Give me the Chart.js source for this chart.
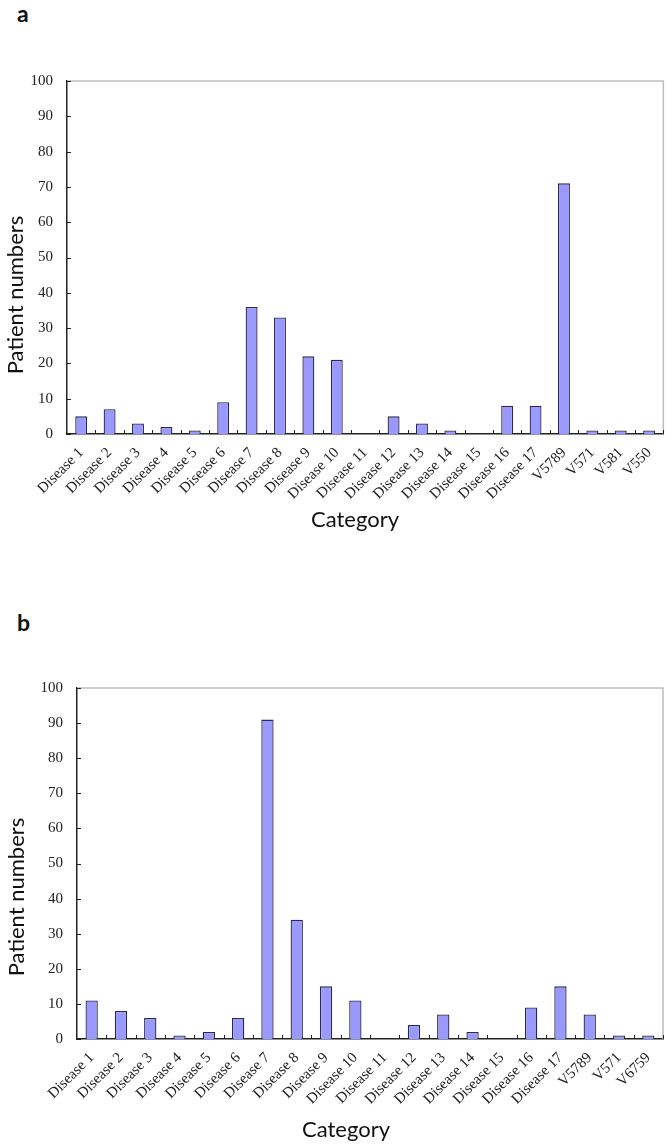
<!DOCTYPE html>
<html>
<head>
<meta charset="utf-8">
<script src="https://cdn.jsdelivr.net/npm/chart.js@4.4.1/dist/chart.umd.min.js"></script>
<style>
  html, body { margin: 0; padding: 0; background: #ffffff; }
  body { width: 672px; height: 1146px; position: relative; overflow: hidden; }
  .panel { position: absolute; left: 0; width: 672px; }
  .tag { position: absolute; font-family: Lato, "Open Sans", sans-serif; font-weight: bold; font-size: 23px; color: #111; line-height: 1; }
  canvas { display: block; }
</style>
</head>
<body>
<div class="tag" style="left:17px; top:2px;">a</div>
<div class="tag" style="left:17px; top:611px;">b</div>
<div class="panel" style="top:0px; height:560px;"><canvas id="chartA" width="672" height="560"></canvas></div>
<div class="panel" style="top:560px; height:586px;"><canvas id="chartB" width="672" height="586"></canvas></div>
<script>
// ---------- data ----------
const categoriesA = ['Disease 1','Disease 2','Disease 3','Disease 4','Disease 5','Disease 6','Disease 7','Disease 8','Disease 9','Disease 10','Disease 11','Disease 12','Disease 13','Disease 14','Disease 15','Disease 16','Disease 17','V5789','V571','V581','V550'];
const valuesA = [5,7,3,2,1,9,36,33,22,21,0,5,3,1,0,8,8,71,1,1,1];

const categoriesB = ['Disease 1','Disease 2','Disease 3','Disease 4','Disease 5','Disease 6','Disease 7','Disease 8','Disease 9','Disease 10','Disease 11','Disease 12','Disease 13','Disease 14','Disease 15','Disease 16','Disease 17','V5789','V571','V6759'];
const valuesB = [11,8,6,1,2,6,91,34,15,11,0,4,7,2,0,9,15,7,1,1];

const yAxisMin = 0;
const yAxisMax = 100;
const yAxisStep = 10;
const xAxisTitle = 'Category';
const yAxisTitle = 'Patient numbers';

// ---------- plugins ----------
const frameAndTicks = {
  id: 'frameAndTicks',
  afterDatasetsDraw(chart) {
    const {ctx, chartArea: a, scales: {x, y}} = chart;
    ctx.save();
    // light top/right frame
    ctx.strokeStyle = '#bdbdbd';
    ctx.lineWidth = 1.5;
    ctx.beginPath();
    ctx.moveTo(a.left, a.top);
    ctx.lineTo(a.right, a.top);
    ctx.lineTo(a.right, a.bottom);
    ctx.stroke();
    // inner tick marks
    ctx.strokeStyle = '#222';
    ctx.lineWidth = 1;
    ctx.beginPath();
    y.ticks.forEach(t => {
      const py = Math.round(y.getPixelForValue(t.value)) + 0.5;
      ctx.moveTo(a.left, py);
      ctx.lineTo(a.left + 4, py);
    });
    const n = x.ticks.length;
    for (let i = 1; i <= n; i++) {
      const px = i < n
        ? (x.getPixelForValue(i - 1) + x.getPixelForValue(i)) / 2
        : a.right;
      const rx = Math.round(px) + 0.5;
      ctx.moveTo(rx, a.bottom);
      ctx.lineTo(rx, a.bottom - 4);
    }
    ctx.stroke();
    ctx.restore();
  }
};

const axisTitles = {
  id: 'axisTitles',
  afterDraw(chart, args, opts) {
    const {ctx} = chart;
    ctx.save();
    ctx.fillStyle = '#111';
    ctx.font = '22px Lato, "Open Sans", sans-serif';
    ctx.textBaseline = 'alphabetic';
    ctx.textAlign = 'center';
    ctx.fillText(opts.xText, opts.xCenter, opts.xBaseline);
    ctx.translate(opts.yBaseline, opts.yCenter);
    ctx.rotate(-Math.PI / 2);
    ctx.fillText(opts.yText, 0, 0);
    ctx.restore();
  }
};

function makeChart(id, labels, values, geom) {
  return new Chart(document.getElementById(id), {
    type: 'bar',
    data: {
      labels: labels,
      datasets: [{
        data: values,
        backgroundColor: '#9999ff',
        borderColor: '#2a2a4a',
        borderWidth: 1.3,
        borderSkipped: 'start',
        barPercentage: 0.42,
        categoryPercentage: 1.0
      }]
    },
    options: {
      responsive: false,
      animation: false,
      events: [],
      layout: { padding: { top: geom.top, right: geom.right, left: 0, bottom: 0 } },
      plugins: {
        legend: { display: false },
        tooltip: { enabled: false },
        axisTitles: geom.titles
      },
      scales: {
        x: {
          grid: { display: false, drawTicks: false },
          border: { display: true, color: '#222', width: 1.5 },
          ticks: {
            autoSkip: false,
            maxRotation: 45,
            minRotation: 45,
            padding: 10,
            color: '#222',
            font: { family: '"Liberation Serif", "Times New Roman", serif', size: 15 }
          },
          afterFit(scale) { scale.height = geom.xHeight; }
        },
        y: {
          min: yAxisMin,
          max: yAxisMax,
          grid: { display: false, drawTicks: false },
          border: { display: true, color: '#222', width: 1.5 },
          ticks: {
            stepSize: yAxisStep,
            padding: 14,
            color: '#222',
            font: { family: '"Liberation Serif", "Times New Roman", serif', size: 15 }
          },
          afterFit(scale) { scale.width = geom.yWidth; }
        }
      }
    },
    plugins: [frameAndTicks, axisTitles]
  });
}

makeChart('chartA', categoriesA, valuesA, {
  top: 81, right: 5, yWidth: 67, xHeight: 126,
  titles: { xText: xAxisTitle, yText: yAxisTitle, xCenter: 355, xBaseline: 527, yCenter: 295, yBaseline: 23 }
});
makeChart('chartB', categoriesB, valuesB, {
  top: 128, right: 9, yWidth: 77, xHeight: 107,
  titles: { xText: xAxisTitle, yText: yAxisTitle, xCenter: 346, xBaseline: 577, yCenter: 337, yBaseline: 24 }
});
</script>
</body>
</html>
